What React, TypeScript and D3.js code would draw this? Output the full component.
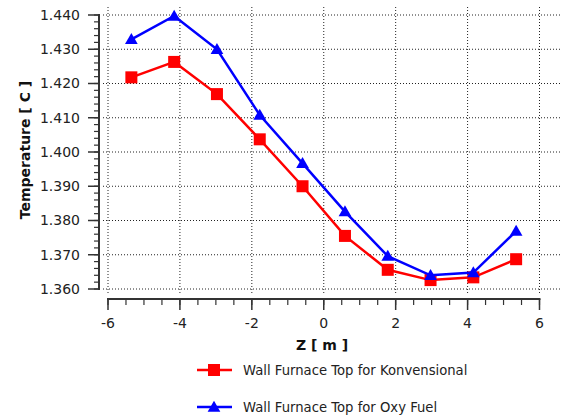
import React from "react";
import * as d3 from "d3";

const zValues = [-5.35, -4.16, -2.97, -1.78, -0.59, 0.59, 1.78, 2.97, 4.16, 5.35];
const konvensional = [1.4218, 1.4263, 1.4169, 1.4037, 1.39, 1.3755, 1.3656, 1.3626, 1.3634, 1.3687];
const oxyFuel = [1.4329, 1.4397, 1.43, 1.4108, 1.3967, 1.3826, 1.3696, 1.364, 1.3648, 1.3769];
const xTicks = [-6, -4, -2, 0, 2, 4, 6];
const yTicks = [1.36, 1.37, 1.38, 1.39, 1.4, 1.41, 1.42, 1.43, 1.44];
const seriesNames = ["Wall Furnace Top for Konvensional", "Wall Furnace Top for Oxy Fuel"];
const seriesColors = ["#ff0000", "#0000ff"];

export default function App() {
  const W = 566, H = 418;
  const x = d3.scaleLinear().domain([-6, 6]).range([108, 539.5]);
  const y = d3.scaleLinear().domain([1.36, 1.44]).range([289, 15]);
  const font = "'DejaVu Sans', Verdana, sans-serif";
  const line = d3.line<[number, number]>().x(d => x(d[0])).y(d => y(d[1]));
  const data = [konvensional, oxyFuel].map(vals => zValues.map((z, i) => [z, vals[i]] as [number, number]));
  const xMinor = d3.range(-6, 6.01, 0.5);
  const yMinor = d3.range(1.36, 1.4401, 0.002);
  const tri = d3.symbol().type(d3.symbolTriangle).size(70)();
  const axisColor = "#333";
  const legendY = [370, 407];

  const marker = (k: number, cx: number, cy: number, key: string) =>
    k === 0 ? (
      <rect key={key} x={cx - 6} y={cy - 6} width={12} height={12} fill={seriesColors[0]} />
    ) : (
      <path key={key} d={tri || ""} transform={`translate(${cx},${cy + 1})`} fill={seriesColors[1]} />
    );

  return (
    <div style={{ position: "absolute", left: 0, top: 0 }}>
      <svg width={W} height={H} style={{ display: "block", background: "#fff" }}>
        {/* grid */}
        {yTicks.map(t => (
          <line key={"gy" + t} x1={103} x2={560} y1={y(t)} y2={y(t)} stroke="#222" strokeWidth={1} strokeDasharray="1 2" />
        ))}
        {xTicks.map(t => (
          <line key={"gx" + t} x1={x(t)} x2={x(t)} y1={7} y2={294} stroke="#222" strokeWidth={1} strokeDasharray="1 2" />
        ))}
        {/* y axis */}
        <line x1={99} x2={99} y1={y(1.44) - 1} y2={y(1.36) + 1} stroke={axisColor} strokeWidth={2} />
        {yMinor.map((t, i) => (
          <line key={"ym" + i} x1={94} x2={99} y1={y(t)} y2={y(t)} stroke={axisColor} strokeWidth={1.2} />
        ))}
        {yTicks.map(t => (
          <g key={"yt" + t}>
            <line x1={88} x2={99} y1={y(t)} y2={y(t)} stroke={axisColor} strokeWidth={1.5} />
            <text x={80} y={y(t)} dy="0.35em" textAnchor="end" fontFamily={font} fontSize={14} fill="#222">
              {d3.format(".3f")(t)}
            </text>
          </g>
        ))}
        {/* x axis */}
        <line x1={x(-6) - 1} x2={x(6) + 1} y1={299} y2={299} stroke={axisColor} strokeWidth={2} />
        {xMinor.map((t, i) => (
          <line key={"xm" + i} x1={x(t)} x2={x(t)} y1={299} y2={305} stroke={axisColor} strokeWidth={1.2} />
        ))}
        {xTicks.map(t => (
          <g key={"xt" + t}>
            <line x1={x(t)} x2={x(t)} y1={299} y2={310} stroke={axisColor} strokeWidth={1.5} />
            <text x={x(t)} y={323} dy="0.35em" textAnchor="middle" fontFamily={font} fontSize={14} fill="#222">
              {t}
            </text>
          </g>
        ))}
        {/* titles */}
        <text x={322} y={345} dy="0.35em" textAnchor="middle" fontFamily={font} fontSize={14} fontWeight="bold" fill="#111">
          Z [ m ]
        </text>
        <text transform={`translate(25,150) rotate(-90)`} dy="0.35em" textAnchor="middle" fontFamily={font} fontSize={14} fontWeight="bold" fill="#111">
          Temperature [ C ]
        </text>
        {/* series */}
        {data.map((d, k) => (
          <g key={"s" + k}>
            <path d={line(d) || ""} fill="none" stroke={seriesColors[k]} strokeWidth={2.5} />
            {d.map((p, i) => marker(k, x(p[0]), y(p[1]), "m" + k + "-" + i))}
          </g>
        ))}
        {/* legend */}
        {seriesNames.map((n, k) => (
          <g key={"lg" + k}>
            <line x1={197} x2={232} y1={legendY[k]} y2={legendY[k]} stroke={seriesColors[k]} strokeWidth={2.5} />
            {marker(k, 214, legendY[k], "lm" + k)}
            <text x={243} y={legendY[k]} dy="0.35em" fontFamily={font} fontSize={13.2} fill="#222">
              {n}
            </text>
          </g>
        ))}
      </svg>
    </div>
  );
}
